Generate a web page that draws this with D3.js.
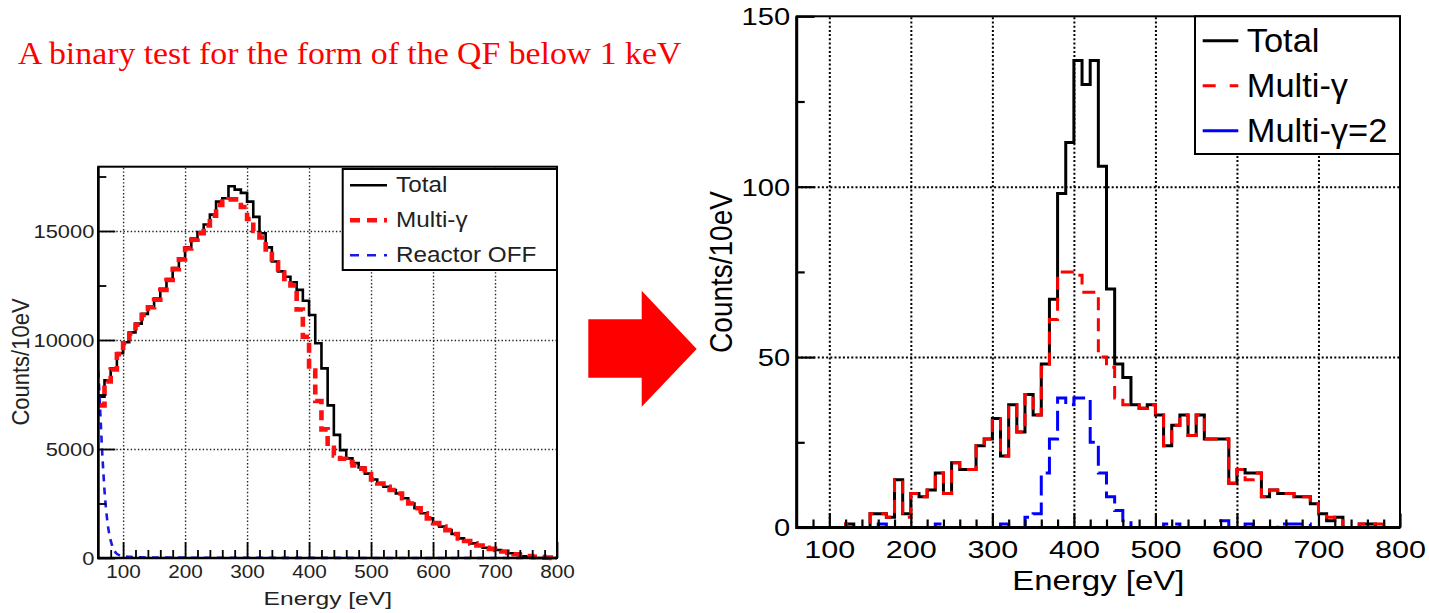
<!DOCTYPE html>
<html>
<head>
<meta charset="utf-8">
<script src="https://cdn.jsdelivr.net/npm/d3@7"></script>
<style>
  body { margin: 0; background: #fff; }
  svg { display: block; }
</style>
</head>
<body>
<svg id="fig" width="1429" height="613"></svg>
<script>
// Histogram binning shared by both panels: 10 eV bins from 60 to 800 eV
const binStart = 60;
const binWidth = 10;

// Left panel: counts per 10 eV
const leftTotal = [
  7400, 8150, 8700, 9400, 9900, 10350, 10750, 11200, 11550, 11900,
  12350, 12800, 13300, 13750, 14250, 14650, 14950, 15300, 15750, 16350,
  16500, 17050, 16900, 16750, 16350, 15650, 14900, 14250, 13600, 13150,
  12900, 12650, 12300, 11800, 11150, 9850, 8700, 7000, 5650, 4950,
  4570, 4350, 4150, 3870, 3600, 3420, 3270, 3120, 2960, 2740,
  2500, 2280, 2050, 1820, 1600, 1440, 1280, 1100, 900, 780,
  670, 570, 470, 420, 370, 300, 220, 150, 80, 40,
  0, 0, 0, 0
];
const leftMulti = [
  7000, 8100, 8650, 9350, 9850, 10300, 10700, 11150, 11500, 11850,
  12300, 12750, 13250, 13700, 14200, 14600, 14900, 15250, 15700, 16200,
  16350, 16450, 16450, 16100, 15550, 15000, 14700, 14150, 13550, 13100,
  12800, 12500, 11400, 10150, 8600, 7200, 5900, 5050, 4700, 4550,
  4400, 4250, 4100, 3850, 3600, 3420, 3270, 3120, 2960, 2740,
  2500, 2280, 2050, 1820, 1600, 1440, 1280, 1100, 900, 780,
  670, 570, 470, 420, 370, 300, 230, 170, 120, 90,
  60, 40, 15, 0
];
// Reactor OFF spectrum (smooth curve)
const offEnergy = [60, 62, 64, 66, 68, 70, 72, 75, 78, 82, 86, 90, 95, 100, 110, 130, 160, 200, 300, 400, 500, 600, 700, 800];
const offCounts = [8600, 7400, 6200, 5000, 4000, 3100, 2400, 1600, 1050, 600, 330, 190, 120, 80, 50, 30, 20, 15, 10, 5, 3, 2, 1, 0];

// Right panel: counts per 10 eV
const rightTotal = [
  0, 0, 0, 0, 0, 0, 1, 0, 0, 4,
  4, 3, 14, 4, 10, 9, 11, 16, 10, 19,
  17, 17, 24, 26, 32, 21, 36, 28, 39, 33,
  48, 67, 98, 113, 137, 130, 137, 106, 70, 48,
  44, 36, 35, 36, 33, 24, 30, 33, 27, 33,
  26, 26, 26, 13, 17, 16, 16, 9, 11, 10,
  10, 9, 9, 7, 4, 2, 3, 0, 0, 1,
  1, 0, 0, 0
];
const rightMulti = [
  0, 0, 0, 0, 0, 0, 1, 0, 0, 4,
  4, 3, 14, 3, 10, 9, 11, 16, 10, 19,
  17, 17, 24, 26, 32, 21, 36, 28, 39, 33,
  47, 61, 75, 75, 74, 69, 69, 50, 47, 38,
  36, 36, 35, 36, 33, 24, 30, 33, 27, 33,
  26, 26, 26, 13, 17, 14, 16, 9, 11, 10,
  10, 9, 9, 7, 4, 3, 2, 0, 0, 1,
  1, 1, 0, 0
];
const rightMulti2 = [
  0, 0, 0, 0, 0, 0, 0, 0, 0, 0,
  1, 0, 0, 0, 0, 0, 0, 1, 0, 0,
  0, 0, 0, 0, 0, 1, 0, 0, 3, 4,
  16, 26, 38, 36, 38, 38, 25, 16, 9, 5,
  2, 0, 0, 0, 0, 1, 1, 0, 0, 0,
  0, 0, 2, 0, 0, 1, 0, 0, 0, 1,
  1, 1, 1, 0, 0, 0, 0, 0, 0, 0,
  0, 0, 0, 0
];

// Axis ticks
const energyMajor = [100, 200, 300, 400, 500, 600, 700, 800];
const energyMinor = d3.range(80, 800, 20).filter(v => v % 100 !== 0);
const energyGrid = [100, 200, 300, 400, 500, 600, 700];
const leftCountMajor = [0, 5000, 10000, 15000];
const leftCountMinor = [2500, 7500, 12500, 17500];
const leftCountGrid = [5000, 10000, 15000];
const rightCountMajor = [0, 50, 100, 150];
const rightCountMinor = [25, 75, 125];
const rightCountGrid = [50, 100];

const SANS = "'Liberation Sans', Arial, Helvetica, sans-serif";
const plain = d3.format("d");
const svg = d3.select("#fig");

function label(g, x, y, str, o) {
  return g.append("text")
    .attr("transform", `translate(${x},${y}) rotate(${o.rot || 0}) scale(${o.sx || 1},${o.sy || 1})`)
    .attr("font-family", o.family || SANS)
    .attr("font-size", o.size)
    .attr("text-anchor", o.anchor || "start")
    .attr("fill", o.fill || "#000")
    .text(str);
}

function histPoints(vals) {
  const pts = vals.map((v, i) => [binStart + i * binWidth, v]);
  pts.push([binStart + vals.length * binWidth, vals[vals.length - 1]]);
  return pts;
}

function drawPanel(cfg) {
  const { x, y, g } = cfg;
  const [x0, x1] = x.range();
  const [yb, yt] = y.range();

  // dotted grid
  g.append("g").attr("transform", `translate(0,${yb})`)
    .call(d3.axisBottom(x).tickValues(energyGrid).tickSize(-(yb - yt)).tickFormat(""))
    .call(a => a.select(".domain").remove())
    .selectAll("line").attr("stroke", cfg.gridColor).attr("stroke-width", cfg.gridW).attr("stroke-dasharray", cfg.gridDash);
  g.append("g").attr("transform", `translate(${x0},0)`)
    .call(d3.axisLeft(y).tickValues(cfg.countGrid).tickSize(-(x1 - x0)).tickFormat(""))
    .call(a => a.select(".domain").remove())
    .selectAll("line").attr("stroke", cfg.gridColor).attr("stroke-width", cfg.gridW).attr("stroke-dasharray", cfg.gridDash);

  // series
  const step = d3.line().x(d => x(d[0])).y(d => y(d[1])).curve(d3.curveStepAfter);
  cfg.series.forEach(s => {
    const path = g.append("path")
      .attr("fill", "none")
      .attr("stroke", s.color)
      .attr("stroke-width", s.width)
      .attr("stroke-linejoin", "miter");
    if (s.dash) path.attr("stroke-dasharray", s.dash);
    if (s.smooth) {
      path.datum(s.energy.map((e, i) => [e, s.counts[i]]))
        .attr("d", d3.line().x(d => x(d[0])).y(d => y(d[1])).curve(d3.curveMonotoneX));
    } else {
      path.datum(histPoints(s.values)).attr("d", step);
    }
  });

  // inward ticks
  const tickStyle = sel => sel.selectAll("line").attr("stroke", "#000").attr("stroke-width", cfg.tickW);
  g.append("g").attr("transform", `translate(0,${yb})`)
    .call(d3.axisBottom(x).tickValues(energyMinor).tickSizeInner(-cfg.minorLen).tickSizeOuter(0).tickFormat(""))
    .call(a => a.select(".domain").remove()).call(tickStyle);
  g.append("g").attr("transform", `translate(${x0},0)`)
    .call(d3.axisLeft(y).tickValues(cfg.countMinor).tickSizeInner(-cfg.minorLen).tickSizeOuter(0).tickFormat(""))
    .call(a => a.select(".domain").remove()).call(tickStyle);

  const xAxis = g.append("g").attr("transform", `translate(0,${yb})`)
    .call(d3.axisBottom(x).tickValues(energyMajor).tickFormat(plain).tickSizeInner(-cfg.majorLenX).tickSizeOuter(0))
    .call(a => a.select(".domain").remove()).call(tickStyle);
  xAxis.attr("font-family", null).attr("font-size", null);
  xAxis.selectAll(".tick text")
    .attr("y", null).attr("dy", null)
    .attr("transform", `translate(0,${cfg.xLabelDy}) scale(${cfg.xLabelSx},1)`)
    .attr("font-family", SANS).attr("font-size", cfg.xLabelSize).attr("fill", cfg.textColor);

  const yAxis = g.append("g").attr("transform", `translate(${x0},0)`)
    .call(d3.axisLeft(y).tickValues(cfg.countMajor).tickFormat(plain).tickSizeInner(-cfg.majorLenY).tickSizeOuter(0))
    .call(a => a.select(".domain").remove()).call(tickStyle);
  yAxis.attr("font-family", null).attr("font-size", null);
  yAxis.selectAll(".tick text")
    .attr("x", null).attr("dy", null)
    .attr("transform", `translate(${cfg.yLabelDx},${cfg.yLabelSize * 0.36}) scale(${cfg.yLabelSx},1)`)
    .attr("text-anchor", "end")
    .attr("font-family", SANS).attr("font-size", cfg.yLabelSize).attr("fill", cfg.textColor);

  // frame
  g.append("rect").attr("x", x0).attr("y", yt).attr("width", x1 - x0).attr("height", yb - yt)
    .attr("fill", "none").attr("stroke", "#000").attr("stroke-width", cfg.frameW);
  g.append("line").attr("x1", x0).attr("x2", x0).attr("y1", yt).attr("y2", yb + cfg.axisW / 2)
    .attr("stroke", "#000").attr("stroke-width", cfg.axisW);
  g.append("line").attr("x1", x0).attr("x2", x1).attr("y1", yb).attr("y2", yb)
    .attr("stroke", "#000").attr("stroke-width", cfg.axisW);

  // legend
  const L = cfg.legend;
  g.append("rect").attr("x", L.x).attr("y", L.y).attr("width", L.w).attr("height", L.h)
    .attr("fill", "#fff").attr("stroke", "#000").attr("stroke-width", L.border);
  L.items.forEach((it, i) => {
    const by = L.firstBase + i * L.gap;
    const ln = g.append("line").attr("x1", L.lineX0).attr("x2", L.lineX1)
      .attr("y1", by - L.lineOff).attr("y2", by - L.lineOff)
      .attr("stroke", it.color).attr("stroke-width", it.width);
    if (it.dash) ln.attr("stroke-dasharray", it.dash);
    label(g, L.textX, by, it.name, { size: L.size, sx: L.sx, fill: cfg.textColor });
  });
}

// ---------- title ----------
label(svg, 18, 64, "A binary test for the form of the QF below 1 keV",
  { size: 32.5, sx: 1.04, fill: "#ff0000", family: "'Liberation Serif', 'DejaVu Serif', serif" });

// ---------- arrow between panels ----------
svg.append("path")
  .attr("d", "M588.3,319.3 H641.7 V290.7 L696.7,349 L641.7,406.7 V377.7 H588.3 Z")
  .attr("fill", "#ff0000");

// ---------- left panel ----------
const gL = svg.append("g");
const xL = d3.scaleLinear().domain([60, 800]).range([98.3, 557]);
const yL = d3.scaleLinear().domain([0, 17950]).range([558, 166.7]);
drawPanel({
  g: gL, x: xL, y: yL,
  countGrid: leftCountGrid, countMajor: leftCountMajor, countMinor: leftCountMinor,
  gridColor: "#222", gridW: 1.4, gridDash: "1.4,2.2",
  tickW: 1.8, minorLen: 8, majorLenX: 16, majorLenY: 17,
  frameW: 2, axisW: 2.6, textColor: "#222",
  xLabelDy: 20, xLabelSize: 18.5, xLabelSx: 1.12,
  yLabelDx: -4, yLabelSize: 17.5, yLabelSx: 1.25,
  series: [
    { values: leftTotal, color: "#000", width: 2.6 },
    { values: leftMulti, color: "#ff1010", width: 4.6, dash: "10,6" },
    { smooth: true, energy: offEnergy, counts: offCounts, color: "#1a1ae6", width: 2.6, dash: "7,6" }
  ],
  legend: {
    x: 342.7, y: 169, w: 214.3, h: 101, border: 2,
    lineX0: 350, lineX1: 387, lineOff: 6.5,
    textX: 396, firstBase: 191.7, gap: 35, size: 21.5, sx: 1.13,
    items: [
      { name: "Total", color: "#000", width: 2.6 },
      { name: "Multi-γ", color: "#ff1010", width: 4.6, dash: "10,7" },
      { name: "Reactor OFF", color: "#1a1ae6", width: 2.6, dash: "9,8" }
    ]
  }
});
label(gL, 327.8, 605, "Energy [eV]", { size: 18.5, sx: 1.33, anchor: "middle", fill: "#222" });
label(gL, 29, 362, "Counts/10eV", { size: 22, rot: -90, sy: 1.12, anchor: "middle", fill: "#222" });

// ---------- right panel ----------
const gR = svg.append("g");
const xR = d3.scaleLinear().domain([60, 800]).range([796.7, 1400]);
const yR = d3.scaleLinear().domain([0, 150]).range([527.5, 16.3]);
drawPanel({
  g: gR, x: xR, y: yR,
  countGrid: rightCountGrid, countMajor: rightCountMajor, countMinor: rightCountMinor,
  gridColor: "#000", gridW: 2, gridDash: "2,2.2",
  tickW: 2.2, minorLen: 8, majorLenX: 14, majorLenY: 18,
  frameW: 2, axisW: 3, textColor: "#000",
  xLabelDy: 30.8, xLabelSize: 23.5, xLabelSx: 1.3,
  yLabelDx: -6.5, yLabelSize: 23.5, yLabelSx: 1.24,
  series: [
    { values: rightTotal, color: "#000", width: 3 },
    { values: rightMulti, color: "#ff0000", width: 3, dash: "13,8" },
    { values: rightMulti2, color: "#0000ff", width: 3, dash: "20,7" }
  ],
  legend: {
    x: 1195, y: 16.3, w: 205, h: 137.7, border: 2,
    lineX0: 1202.7, lineX1: 1238.3, lineOff: 11,
    textX: 1246.7, firstBase: 51.7, gap: 45, size: 32.5, sx: 1.06,
    items: [
      { name: "Total", color: "#000", width: 3 },
      { name: "Multi-γ", color: "#ff0000", width: 3, dash: "13,14" },
      { name: "Multi-γ=2", color: "#0000ff", width: 3 }
    ]
  }
});
label(gR, 1098.3, 590, "Energy [eV]", { size: 27.7, sx: 1.19, anchor: "middle" });
label(gR, 731.5, 272, "Counts/10eV", { size: 28, rot: -90, sy: 1.15, anchor: "middle" });
</script>
</body>
</html>
